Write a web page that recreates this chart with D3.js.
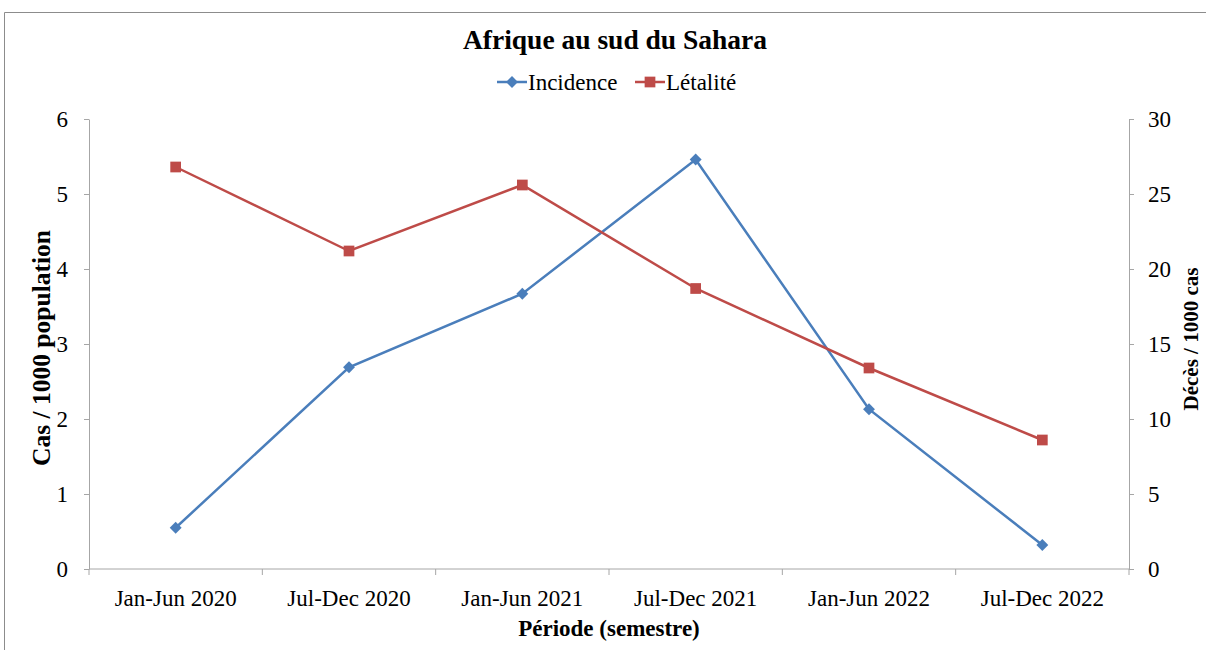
<!DOCTYPE html>
<html>
<head>
<meta charset="utf-8">
<script src="https://cdn.jsdelivr.net/npm/d3@7"></script>
<style>
  body { margin: 0; background: #fff; }
  svg text { font-family: "Liberation Serif", "Times New Roman", serif; fill: #000; }
</style>
</head>
<body>
<div id="chart"></div>
<script>
const periods = ['Jan-Jun 2020', 'Jul-Dec 2020', 'Jan-Jun 2021', 'Jul-Dec 2021', 'Jan-Jun 2022', 'Jul-Dec 2022'];
const incidence = [0.55, 2.69, 3.67, 5.46, 2.13, 0.32];
const letalite = [26.8, 21.2, 25.6, 18.7, 13.4, 8.6];
const leftTicks = [0, 1, 2, 3, 4, 5, 6];
const rightTicks = [0, 5, 10, 15, 20, 25, 30];

const width = 1206;
const height = 650;
const margin = { top: 119, right: 77, bottom: 81, left: 89 };
const blue = '#4a7ebb';
const red = '#be4b48';
const axisColor = '#a6a6a6';

const svg = d3.select('#chart').append('svg')
  .attr('width', width)
  .attr('height', height);

// chart frame
svg.append('path')
  .attr('d', `M4.5,${height} V12.5 H${width}`)
  .attr('fill', 'none')
  .attr('stroke', '#8c8c8c')
  .attr('stroke-width', 1);

const x = d3.scaleBand()
  .domain(periods)
  .range([margin.left, width - margin.right]);
const yLeft = d3.scaleLinear()
  .domain([0, 6])
  .range([height - margin.bottom, margin.top]);
const yRight = d3.scaleLinear()
  .domain([0, 30])
  .range([height - margin.bottom, margin.top]);

const styleAxis = function styleAxis(g) {
  g.selectAll('.domain, .tick line').attr('stroke', axisColor);
  g.selectAll('.tick text').attr('font-size', 23);
};

// x axis, ticks between the categories
const xAxis = svg.append('g')
  .attr('transform', `translate(0,${height - margin.bottom})`);
xAxis.append('line')
  .attr('x1', margin.left).attr('x2', width - margin.right)
  .attr('stroke', axisColor);
xAxis.selectAll('.sep')
  .data(d3.range(periods.length + 1))
  .enter().append('line')
  .attr('x1', i => margin.left + i * x.bandwidth())
  .attr('x2', i => margin.left + i * x.bandwidth())
  .attr('y1', 0).attr('y2', 6)
  .attr('stroke', axisColor);
xAxis.selectAll('.lbl')
  .data(periods)
  .enter().append('text')
  .attr('x', d => x(d) + x.bandwidth() / 2)
  .attr('y', 37)
  .attr('text-anchor', 'middle')
  .attr('font-size', 23)
  .text(d => d);

svg.append('g')
  .attr('transform', `translate(${margin.left},0)`)
  .call(d3.axisLeft(yLeft).tickValues(leftTicks).tickFormat(d3.format('d'))
    .tickSize(5).tickPadding(16).tickSizeOuter(0))
  .call(styleAxis);

svg.append('g')
  .attr('transform', `translate(${width - margin.right},0)`)
  .call(d3.axisRight(yRight).tickValues(rightTicks).tickFormat(d3.format('d'))
    .tickSize(5).tickPadding(14).tickSizeOuter(0))
  .call(styleAxis);

const cx = d => x(d) + x.bandwidth() / 2;

const lineLeft = d3.line()
  .x((d, i) => cx(periods[i]))
  .y(d => yLeft(d));
const lineRight = d3.line()
  .x((d, i) => cx(periods[i]))
  .y(d => yRight(d));

svg.append('path')
  .datum(incidence)
  .attr('d', lineLeft)
  .attr('fill', 'none')
  .attr('stroke', blue)
  .attr('stroke-width', 2.5);

svg.append('path')
  .datum(letalite)
  .attr('d', lineRight)
  .attr('fill', 'none')
  .attr('stroke', red)
  .attr('stroke-width', 2.5);

const diamond = d3.symbol().type(d3.symbolDiamond2).size(90);
const square = d3.symbol().type(d3.symbolSquare).size(115);

svg.append('g').selectAll('path')
  .data(incidence)
  .enter().append('path')
  .attr('d', diamond)
  .attr('transform', (d, i) => `translate(${cx(periods[i])},${yLeft(d)})`)
  .attr('fill', blue);

svg.append('g').selectAll('path')
  .data(letalite)
  .enter().append('path')
  .attr('d', square)
  .attr('transform', (d, i) => `translate(${cx(periods[i])},${yRight(d)})`)
  .attr('fill', red);

// title
svg.append('text')
  .attr('x', 615)
  .attr('y', 49)
  .attr('text-anchor', 'middle')
  .attr('font-size', 27.5)
  .attr('font-weight', 'bold')
  .text('Afrique au sud du Sahara');

// legend
const legend = svg.append('g').attr('transform', 'translate(497,82)');
legend.append('line').attr('x1', 0).attr('x2', 30).attr('stroke', blue).attr('stroke-width', 2.5);
legend.append('path').attr('d', diamond).attr('transform', 'translate(15,0)').attr('fill', blue);
legend.append('text').attr('x', 31).attr('y', 8).attr('font-size', 23).text('Incidence');
legend.append('line').attr('x1', 138).attr('x2', 168).attr('stroke', red).attr('stroke-width', 2.5);
legend.append('path').attr('d', square).attr('transform', 'translate(153,0)').attr('fill', red);
legend.append('text').attr('x', 169).attr('y', 8).attr('font-size', 23).text('Létalité');

// axis titles
svg.append('text')
  .attr('transform', 'translate(50,348) rotate(-90)')
  .attr('text-anchor', 'middle')
  .attr('font-size', 25.5)
  .attr('font-weight', 'bold')
  .text('Cas / 1000 population');

svg.append('text')
  .attr('transform', 'translate(1198,339) rotate(-90)')
  .attr('text-anchor', 'middle')
  .attr('font-size', 21)
  .attr('font-weight', 'bold')
  .text('Décès / 1000 cas');

svg.append('text')
  .attr('x', 609)
  .attr('y', 636)
  .attr('text-anchor', 'middle')
  .attr('font-size', 23)
  .attr('font-weight', 'bold')
  .text('Période (semestre)');
</script>
</body>
</html>
